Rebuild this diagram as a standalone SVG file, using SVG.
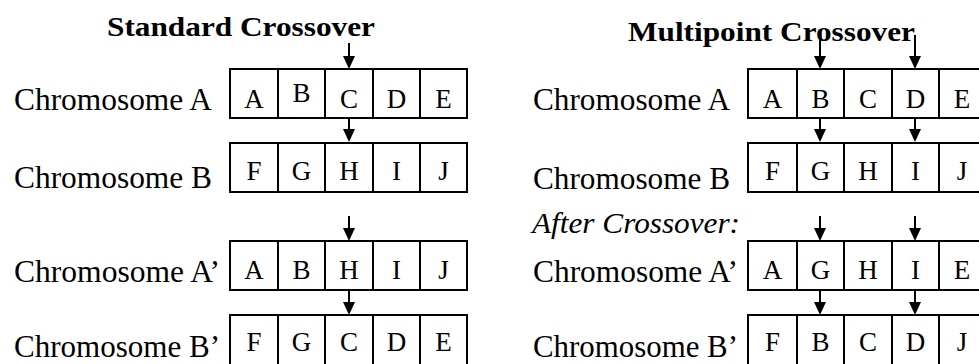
<svg xmlns="http://www.w3.org/2000/svg" width="979" height="364" viewBox="0 0 979 364">
<style>
.title{font-family:"Liberation Serif","Times New Roman",serif;font-weight:bold;font-size:27px;fill:#000}
.lbl{font-family:"Liberation Serif","Times New Roman",serif;font-size:32px;fill:#000}
.ital{font-family:"Liberation Serif","Times New Roman",serif;font-style:italic;font-size:30px;fill:#000}
.cell{fill:#fff;stroke:#000;stroke-width:2}
.g{font-family:"Liberation Serif","Times New Roman",serif;font-size:27px;fill:#000;text-anchor:middle}
.arr{stroke:#000;stroke-width:2;fill:none;marker-end:url(#ah)}
</style>
<defs>
<marker id="ah" markerUnits="userSpaceOnUse" markerWidth="13" markerHeight="12" viewBox="0 0 13 12" refX="9" refY="6" orient="auto">
<path d="M0,0 L13,6 L0,12 Z" fill="#000"/>
</marker>
</defs>
<rect width="979" height="364" fill="#fff"/>

<g id="titles">
<text class="title" x="107" y="36" textLength="268" lengthAdjust="spacingAndGlyphs">Standard Crossover</text>
<text class="title" x="628" y="41" textLength="287" lengthAdjust="spacingAndGlyphs">Multipoint Crossover</text>
<text class="ital" x="532" y="233" textLength="208" lengthAdjust="spacingAndGlyphs">After Crossover:</text>
</g>

<g id="left-A">
<text class="lbl" x="14" y="110" textLength="198" lengthAdjust="spacingAndGlyphs">Chromosome A</text>
<rect class="cell" x="230" y="69" width="48" height="49"/>
<rect class="cell" x="278" y="69" width="47" height="49"/>
<rect class="cell" x="325" y="69" width="48" height="49"/>
<rect class="cell" x="373" y="69" width="47" height="49"/>
<rect class="cell" x="420" y="69" width="47" height="49"/>
<text class="g" x="254" y="108">A</text><text class="g" x="301.5" y="102">B</text><text class="g" x="349" y="108">C</text><text class="g" x="396.5" y="108">D</text><text class="g" x="443.5" y="108">E</text>
</g>

<g id="left-B">
<text class="lbl" x="14" y="188" textLength="198" lengthAdjust="spacingAndGlyphs">Chromosome B</text>
<rect class="cell" x="230" y="143" width="48" height="49"/>
<rect class="cell" x="278" y="143" width="47" height="49"/>
<rect class="cell" x="325" y="143" width="48" height="49"/>
<rect class="cell" x="373" y="143" width="47" height="49"/>
<rect class="cell" x="420" y="143" width="47" height="49"/>
<text class="g" x="254" y="180">F</text><text class="g" x="301.5" y="180">G</text><text class="g" x="349" y="180">H</text><text class="g" x="396.5" y="180">I</text><text class="g" x="443.5" y="180">J</text>
</g>

<g id="left-A2">
<text class="lbl" x="14" y="282" textLength="206" lengthAdjust="spacingAndGlyphs">Chromosome A’</text>
<rect class="cell" x="230" y="241" width="48" height="49"/>
<rect class="cell" x="278" y="241" width="47" height="49"/>
<rect class="cell" x="325" y="241" width="48" height="49"/>
<rect class="cell" x="373" y="241" width="47" height="49"/>
<rect class="cell" x="420" y="241" width="47" height="49"/>
<text class="g" x="254" y="279">A</text><text class="g" x="301.5" y="279">B</text><text class="g" x="349" y="279">H</text><text class="g" x="396.5" y="279">I</text><text class="g" x="443.5" y="279">J</text>
</g>

<g id="left-B2">
<text class="lbl" x="14" y="357" textLength="206" lengthAdjust="spacingAndGlyphs">Chromosome B’</text>
<rect class="cell" x="230" y="315" width="48" height="52"/>
<rect class="cell" x="278" y="315" width="47" height="52"/>
<rect class="cell" x="325" y="315" width="48" height="52"/>
<rect class="cell" x="373" y="315" width="47" height="52"/>
<rect class="cell" x="420" y="315" width="47" height="52"/>
<text class="g" x="254" y="351">F</text><text class="g" x="301.5" y="351">G</text><text class="g" x="349" y="351">C</text><text class="g" x="396.5" y="351">D</text><text class="g" x="443.5" y="351">E</text>
</g>

<g id="right-A">
<text class="lbl" x="533" y="110" textLength="197" lengthAdjust="spacingAndGlyphs">Chromosome A</text>
<rect class="cell" x="748" y="69" width="49" height="49"/>
<rect class="cell" x="797" y="69" width="47" height="49"/>
<rect class="cell" x="844" y="69" width="48" height="49"/>
<rect class="cell" x="892" y="69" width="47" height="49"/>
<rect class="cell" x="939" y="69" width="50" height="49"/>
<text class="g" x="772.5" y="108">A</text><text class="g" x="820.5" y="108">B</text><text class="g" x="868" y="108">C</text><text class="g" x="915.5" y="108">D</text><text class="g" x="962" y="108">E</text>
</g>

<g id="right-B">
<text class="lbl" x="533" y="189" textLength="197" lengthAdjust="spacingAndGlyphs">Chromosome B</text>
<rect class="cell" x="748" y="143" width="49" height="49"/>
<rect class="cell" x="797" y="143" width="47" height="49"/>
<rect class="cell" x="844" y="143" width="48" height="49"/>
<rect class="cell" x="892" y="143" width="47" height="49"/>
<rect class="cell" x="939" y="143" width="50" height="49"/>
<text class="g" x="772.5" y="180">F</text><text class="g" x="820.5" y="180">G</text><text class="g" x="868" y="180">H</text><text class="g" x="915.5" y="180">I</text><text class="g" x="962" y="180">J</text>
</g>

<g id="right-A2">
<text class="lbl" x="533" y="282" textLength="205" lengthAdjust="spacingAndGlyphs">Chromosome A’</text>
<rect class="cell" x="748" y="241" width="49" height="49"/>
<rect class="cell" x="797" y="241" width="47" height="49"/>
<rect class="cell" x="844" y="241" width="48" height="49"/>
<rect class="cell" x="892" y="241" width="47" height="49"/>
<rect class="cell" x="939" y="241" width="50" height="49"/>
<text class="g" x="772.5" y="279">A</text><text class="g" x="820.5" y="279">G</text><text class="g" x="868" y="279">H</text><text class="g" x="915.5" y="279">I</text><text class="g" x="962" y="279">E</text>
</g>

<g id="right-B2">
<text class="lbl" x="533" y="357" textLength="205" lengthAdjust="spacingAndGlyphs">Chromosome B’</text>
<rect class="cell" x="748" y="315" width="49" height="52"/>
<rect class="cell" x="797" y="315" width="47" height="52"/>
<rect class="cell" x="844" y="315" width="48" height="52"/>
<rect class="cell" x="892" y="315" width="47" height="52"/>
<rect class="cell" x="939" y="315" width="50" height="52"/>
<text class="g" x="772.5" y="351">F</text><text class="g" x="820.5" y="351">B</text><text class="g" x="868" y="351">C</text><text class="g" x="915.5" y="351">D</text><text class="g" x="962" y="351">J</text>
</g>

<g id="connectors">
<line class="arr" x1="349" y1="43" x2="349" y2="65"/>
<line class="arr" x1="349" y1="119" x2="349" y2="138"/>
<line class="arr" x1="349" y1="216" x2="349" y2="237"/>
<line class="arr" x1="349" y1="291" x2="349" y2="311"/>
<line class="arr" x1="820" y1="35" x2="820" y2="65"/>
<line class="arr" x1="915" y1="35" x2="915" y2="65"/>
<line class="arr" x1="820" y1="119" x2="820" y2="138"/>
<line class="arr" x1="915" y1="119" x2="915" y2="138"/>
<line class="arr" x1="820" y1="216" x2="820" y2="237"/>
<line class="arr" x1="915" y1="216" x2="915" y2="237"/>
<line class="arr" x1="820" y1="291" x2="820" y2="311"/>
<line class="arr" x1="915" y1="291" x2="915" y2="311"/>
</g>
</svg>
